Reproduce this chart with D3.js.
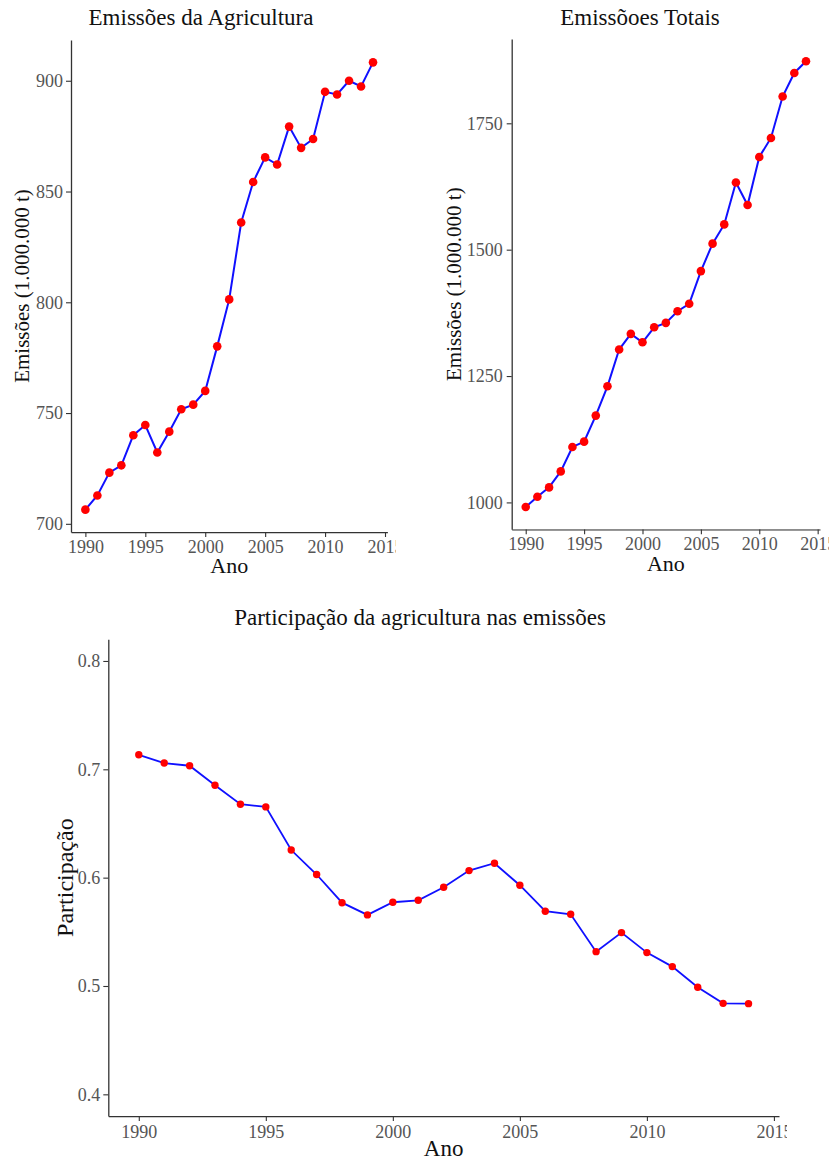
<!DOCTYPE html>
<html>
<head>
<meta charset="utf-8">
<script src="https://cdn.jsdelivr.net/npm/d3@7"></script>
<style>
  body { margin: 0; background: #fff; }
  text { font-family: "Liberation Serif", serif; }
</style>
</head>
<body>
<svg id="fig" width="835" height="1162"></svg>
<script>
let years = [1990, 1991, 1992, 1993, 1994, 1995, 1996, 1997, 1998, 1999, 2000, 2001, 2002,
  2003, 2004, 2005, 2006, 2007, 2008, 2009, 2010, 2011, 2012, 2013, 2014];

let agri = [706.4, 712.8, 723.1, 726.4, 740.0, 744.6, 732.2, 741.6, 751.7, 753.8, 760.0, 780.1, 801.3,
  836.0, 854.3, 865.4, 862.2, 879.3, 869.7, 873.7, 895.0, 893.8, 900.0, 897.4, 908.3];

let total = [990.9, 1011.3, 1029.7, 1061.4, 1109.7, 1120.2, 1171.7, 1229.7, 1302.4, 1333.5, 1316.8, 1346.5, 1355.2,
  1378.2, 1392.9, 1457.6, 1511.9, 1550.0, 1633.0, 1588.3, 1683.4, 1721.0, 1803.0, 1849.6, 1872.7];

let share = [0.7134, 0.7058, 0.7033, 0.6853, 0.6678, 0.6653, 0.6255, 0.6029, 0.5769, 0.5656, 0.5773, 0.5791, 0.5911,
  0.6065, 0.6133, 0.5930, 0.5690, 0.5662, 0.5317, 0.5493, 0.5308, 0.5179, 0.4988, 0.4840, 0.4837];

let xTicks = [1990, 1995, 2000, 2005, 2010, 2015];
let agriTicks = [700, 750, 800, 850, 900];
let totalTicks = [1000, 1250, 1500, 1750];
let shareTicks = [0.4, 0.5, 0.6, 0.7, 0.8];
let shareLimits = [0.4, 0.8];

// ggplot style 5% expansion
function expand(lim) {
  let pad = (lim[1] - lim[0]) * 0.05;
  return [lim[0] - pad, lim[1] + pad];
}

let svg = d3.select("#fig");

function panel(opt) {
  let x = d3.scaleLinear()
    .domain(expand(d3.extent(years)))
    .range([opt.left, opt.right]);
  let y = d3.scaleLinear()
    .domain(expand(opt.limits || d3.extent(opt.values)))
    .range([opt.bottom, opt.top]);

  let g = svg.append("g");

  // last x label is cut off in the original
  g.append("clipPath")
    .attr("id", opt.id + "-clip")
    .append("rect")
    .attr("x", 0)
    .attr("y", 0)
    .attr("width", opt.clipX)
    .attr("height", 1162);

  let xAxis = g.append("g")
    .attr("transform", `translate(0,${opt.bottom})`)
    .attr("clip-path", `url(#${opt.id}-clip)`)
    .call(d3.axisBottom(x).tickValues(xTicks).tickFormat(d3.format("d"))
      .tickSize(5).tickSizeOuter(0).tickPadding(opt.xPad));

  let yAxis = g.append("g")
    .attr("transform", `translate(${opt.left},0)`)
    .call(d3.axisLeft(y).tickValues(opt.ticks).tickFormat(opt.fmt)
      .tickSize(5).tickSizeOuter(0).tickPadding(opt.yPad));

  [xAxis, yAxis].forEach((a) => {
    a.select(".domain").attr("stroke", "#333").attr("stroke-width", 1.3);
    a.selectAll(".tick line").attr("stroke", "#333").attr("stroke-width", 1.1);
    a.selectAll(".tick text")
      .attr("fill", "#555")
      .style("font-size", "18px")
      .style("font-family", "'Liberation Serif', serif");
  });

  let line = d3.line()
    .x((d, i) => x(years[i]))
    .y((d) => y(d));

  g.append("path")
    .datum(opt.values)
    .attr("d", line)
    .style("fill", "none")
    .style("stroke", "#1010ff")
    .style("stroke-width", opt.lw);

  g.selectAll(".pt")
    .data(opt.values)
    .join("circle")
    .attr("class", "pt")
    .attr("cx", (d, i) => x(years[i]))
    .attr("cy", (d) => y(d))
    .attr("r", opt.r)
    .style("fill", "#ff0000");

  g.append("text")
    .attr("x", opt.titleX)
    .attr("y", opt.titleY)
    .attr("text-anchor", "middle")
    .style("font-size", "23px")
    .style("fill", "#111")
    .text(opt.title);

  g.append("text")
    .attr("x", (opt.left + opt.right) / 2)
    .attr("y", opt.anoY)
    .attr("text-anchor", "middle")
    .style("font-size", opt.anoSize)
    .style("fill", "#111")
    .text("Ano");

  g.append("text")
    .attr("transform", `translate(${opt.ylabX},${(opt.top + opt.bottom) / 2}) rotate(-90)`)
    .attr("text-anchor", "middle")
    .style("font-size", opt.ylabSize)
    .style("fill", "#111")
    .text(opt.ylab);
}

panel({
  id: "agri", values: agri, ticks: agriTicks, fmt: d3.format("d"),
  left: 71, right: 387.4, top: 40, bottom: 532, clipX: 396,
  xPad: 3, yPad: 3, r: 4.3, lw: 2,
  title: "Emissões da Agricultura", titleX: 201, titleY: 25,
  anoY: 573, anoSize: "22px",
  ylab: "Emissões (1.000.000 t)", ylabX: 29, ylabSize: "21px"
});

panel({
  id: "total", values: total, ticks: totalTicks, fmt: d3.format("d"),
  left: 511.7, right: 820, top: 39, bottom: 529.3, clipX: 829,
  xPad: 3, yPad: 4, r: 4.3, lw: 2,
  title: "Emissõoes Totais", titleX: 640, titleY: 25,
  anoY: 571, anoSize: "22px",
  ylab: "Emissões (1.000.000 t)", ylabX: 461, ylabSize: "21px"
});

panel({
  id: "share", values: share, limits: shareLimits, ticks: shareTicks, fmt: d3.format(".1f"),
  left: 108.3, right: 779, top: 639.3, bottom: 1116, clipX: 787,
  xPad: 4, yPad: 3, r: 3.7, lw: 1.8,
  title: "Participação da agricultura nas emissões", titleX: 420, titleY: 625,
  anoY: 1156, anoSize: "23px",
  ylab: "Participação", ylabX: 73, ylabSize: "24px"
});
</script>
</body>
</html>
